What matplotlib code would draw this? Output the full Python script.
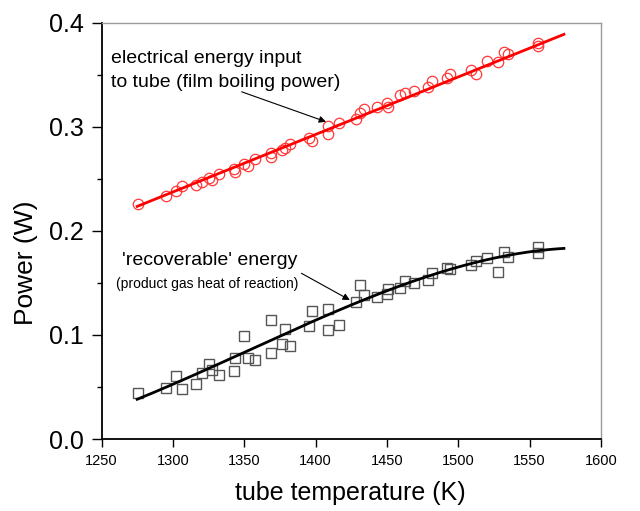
import matplotlib
matplotlib.use("Agg")
import matplotlib.pyplot as plt
from matplotlib.ticker import MultipleLocator
import numpy as np

plt.rcParams['font.family'] = ['Liberation Sans', 'DejaVu Sans']

# tube temperature (K) for each run
temp = [1275.8, 1294.9, 1302.2, 1306.1, 1315.9, 1320.1, 1325.5, 1327.6, 1332.4,
        1342.5, 1343.7, 1349.5, 1352.3, 1357.6, 1368.7, 1369.1, 1376.8, 1378.5,
        1382.2, 1395.4, 1397.4, 1408.6, 1409.0, 1416.4, 1428.0, 1431.0, 1434.1,
        1443.1, 1450.1, 1450.8, 1458.9, 1462.7, 1469.1, 1478.8, 1481.5, 1492.1,
        1494.0, 1508.7, 1512.6, 1520.1, 1527.8, 1532.0, 1535.0, 1555.8, 1556.0]

# electrical energy input to tube (W)
p_elec = [0.2255, 0.2337, 0.2379, 0.2430, 0.2437, 0.2472, 0.2510, 0.2488, 0.2549,
          0.2594, 0.2568, 0.2639, 0.2620, 0.2687, 0.2744, 0.2712, 0.2776, 0.2800,
          0.2834, 0.2894, 0.2863, 0.3010, 0.2930, 0.3038, 0.3071, 0.3134, 0.3167,
          0.3192, 0.3231, 0.3192, 0.3305, 0.3321, 0.3346, 0.3384, 0.3439, 0.3465,
          0.3506, 0.3545, 0.3503, 0.3634, 0.3624, 0.3715, 0.3696, 0.3801, 0.3772]

# recoverable energy (W)
p_recov = [0.0445, 0.0493, 0.0605, 0.0477, 0.0528, 0.0637, 0.0720, 0.0663, 0.0612,
           0.0653, 0.0775, 0.0992, 0.0781, 0.0759, 0.0823, 0.1143, 0.0913, 0.1054,
           0.0893, 0.1085, 0.1230, 0.1047, 0.1252, 0.1092, 0.1319, 0.1479, 0.1383,
           0.1367, 0.1390, 0.1438, 0.1448, 0.1521, 0.1499, 0.1527, 0.1592, 0.1646,
           0.1630, 0.1671, 0.1713, 0.1736, 0.1601, 0.1799, 0.1745, 0.1847, 0.1790]

# linear trend for electrical input (end points)
line_T = [1275, 1574]
line_P = [0.2235, 0.3888]

# recoverable energy trend curve
curve_T = [1275, 1300, 1350, 1400, 1450, 1500, 1550, 1574]
curve_P = [0.0375, 0.0535, 0.0837, 0.1127, 0.1430, 0.1657, 0.1795, 0.1832]

fig = plt.figure(figsize=(6.4, 5.11), dpi=100)
ax = fig.add_axes([0.1586, 0.1409, 0.7805, 0.8147])

# trend lines
tt = np.linspace(curve_T[0], curve_T[-1], 200)
blk_fit = np.polyfit(curve_T, curve_P, 3)
ax.plot(line_T, line_P, color='#ff0000', lw=2, zorder=3)
ax.plot(tt, np.polyval(blk_fit, tt), color='black', lw=2, zorder=3)

ax.plot(temp, p_elec, 'o', ms=7.5, mfc='none', mec='#ff3838', mew=0.9, zorder=2)
ax.plot(temp, p_recov, 's', ms=6.5, mfc='none', mec='#555555', mew=1.0, zorder=2)

ax.set_xlim(1250, 1600)
ax.set_ylim(0, 0.4)
ax.xaxis.set_major_locator(MultipleLocator(50))
ax.yaxis.set_major_locator(MultipleLocator(0.1))
ax.yaxis.set_minor_locator(MultipleLocator(0.05))
ax.yaxis.set_major_formatter(plt.FuncFormatter(lambda v, p: f"{v:.1f}"))

ax.tick_params(axis='x', direction='out', length=6, width=1, labelsize=10.5, pad=5)
ax.tick_params(axis='y', which='major', direction='out', length=7, width=1, labelsize=18, pad=6)
ax.tick_params(axis='y', which='minor', direction='out', length=3.5, width=1)

for s in ['left', 'bottom']:
    ax.spines[s].set_linewidth(1.3)
    ax.spines[s].set_color('black')
for s in ['top', 'right']:
    ax.spines[s].set_linewidth(1.0)
    ax.spines[s].set_color('#9a9a9a')

ax.set_xlabel('tube temperature (K)', fontsize=18, va='center')
ax.xaxis.set_label_coords(0.499, -0.13)
ax.set_ylabel('Power (W)', fontsize=19, va='center')
ax.yaxis.set_label_coords(-0.152, 0.423)

# annotations
ax.text(1256.7, 0.3609, 'electrical energy input', fontsize=14, ha='left', va='baseline')
ax.text(1256.7, 0.3384, 'to tube (film boiling power)', fontsize=14, ha='left', va='baseline')
ax.annotate('', xy=(1407.3, 0.3048), xytext=(1348.2, 0.3336),
            arrowprops=dict(arrowstyle='-|>', color='black', lw=0.8, mutation_scale=10,
                            shrinkA=0, shrinkB=0))

ax.text(1264.4, 0.1671, "'recoverable' energy", fontsize=14, ha='left', va='baseline')
ax.text(1260.2, 0.1448, '(product gas heat of reaction)', fontsize=10, ha='left', va='baseline')
ax.annotate('', xy=(1424.0, 0.1335), xytext=(1390.1, 0.1592),
            arrowprops=dict(arrowstyle='-|>', color='black', lw=0.8, mutation_scale=10,
                            shrinkA=0, shrinkB=0))

fig.savefig('out.png', dpi=100)
